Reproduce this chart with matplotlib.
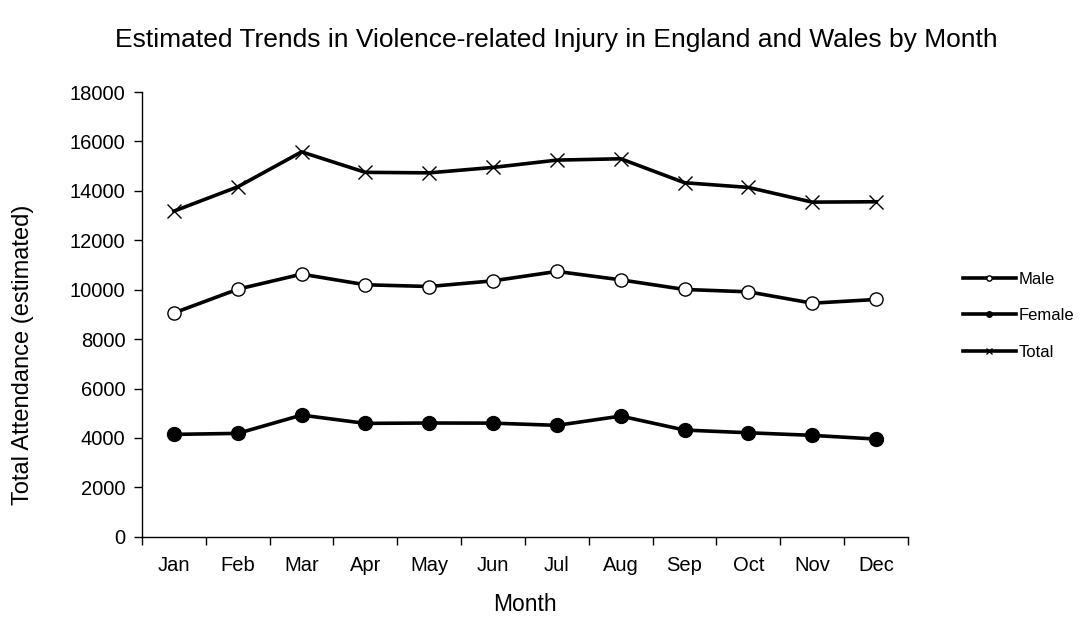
import matplotlib
matplotlib.use('Agg')
from matplotlib import pyplot as plt

months = ['Jan', 'Feb', 'Mar', 'Apr', 'May', 'Jun',
          'Jul', 'Aug', 'Sep', 'Oct', 'Nov', 'Dec']
male = [9060, 10020, 10630, 10200, 10130, 10360,
        10740, 10400, 10010, 9915, 9455, 9605]
female = [4145, 4185, 4925, 4590, 4605, 4600,
          4510, 4885, 4320, 4210, 4105, 3955]
total = [13180, 14165, 15580, 14750, 14730, 14950,
         15245, 15300, 14330, 14140, 13545, 13560]

plt.rcParams['font.family'] = ['Liberation Sans', 'DejaVu Sans']

fig = plt.figure(figsize=(10.84, 6.22), dpi=100)
ax = fig.add_axes([0.131, 0.137, 0.7066, 0.715])

x = list(range(1, len(months) + 1))
ax.plot(x, male, '-o', color='black', lw=2.6, ms=9.5,
        mfc='white', mec='black', mew=1.0, label='Male')
ax.plot(x, female, '-o', color='black', lw=2.6, ms=10,
        mfc='black', mec='black', label='Female')
ax.plot(x, total, '-x', color='black', lw=2.6, ms=10,
        mew=1.0, label='Total')

ax.set_xlim(0.5, 12.5)
ax.set_ylim(0, 18000)
ax.set_yticks(range(0, 18001, 2000))
# tick marks sit between the months, labels at the months
ax.set_xticks([i + 0.5 for i in range(0, 13)])
ax.set_xticklabels([])
ax.set_xticks(x, minor=True)
ax.set_xticklabels(months, minor=True)
ax.tick_params(axis='x', which='minor', length=0, labelsize=14.5, pad=14)
ax.tick_params(axis='x', which='major', length=6, width=1)
ax.tick_params(axis='y', length=6, width=1, labelsize=14.5, pad=6)

for s in ['top', 'right']:
    ax.spines[s].set_visible(False)
for s in ['left', 'bottom']:
    ax.spines[s].set_linewidth(1)

ax.set_xlabel('Month', fontsize=16.5)
ax.set_ylabel('Total Attendance (estimated)', fontsize=17)
ax.xaxis.set_label_coords(0.5, -0.126)
ax.yaxis.set_label_coords(-0.141, 0.41)
fig.text(0.513, 0.936,
         'Estimated Trends in Violence-related Injury in England and Wales by Month',
         fontsize=19, ha='center', va='center')

ax.legend(loc='center left', bbox_to_anchor=(1.052, 0.497), frameon=False,
          fontsize=12, markerscale=0.4, handlelength=3.2, handletextpad=0.15,
          labelspacing=1.3)

fig.savefig('out.png', dpi=100)
